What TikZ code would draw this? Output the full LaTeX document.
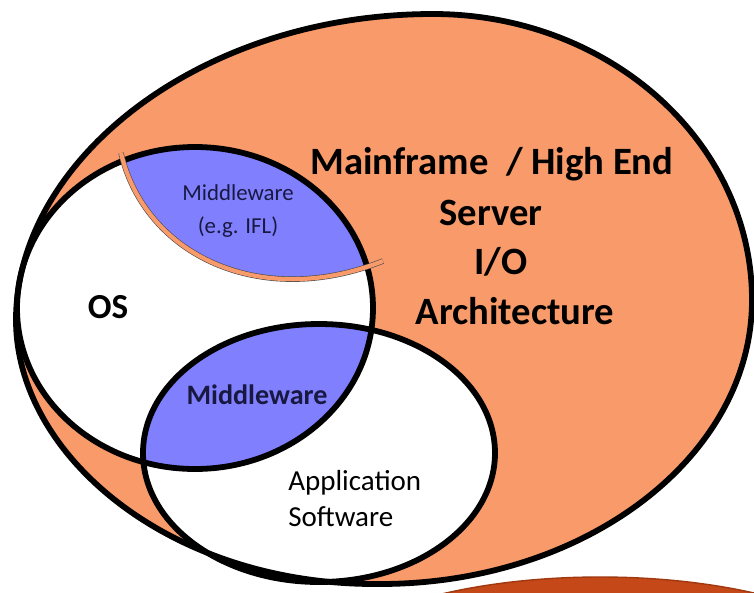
\documentclass[tikz,border=0pt]{standalone}
\usepackage{fontspec}
\setmainfont{Carlito}
\definecolor{salmon}{RGB}{248,154,106}
\definecolor{lensblue}{RGB}{128,128,255}
\definecolor{rust}{RGB}{196,72,24}
\definecolor{rustline}{RGB}{160,56,16}
\definecolor{navytext}{RGB}{24,24,64}
% outline of the big mainframe set
\newcommand{\mainoutline}{(433,14) .. controls (609,14) and (752,142) .. (752,300)
    .. controls (752,457) and (585,584) .. (380,584)
    .. controls (170,586) and (16,455) .. (16,320)
    .. controls (16,160) and (200,14) .. cycle}

\begin{document}
\begin{tikzpicture}[x=0.2mm,y=-0.2mm,
        outline/.style={line width=3.3pt},
        txt/.style={inner sep=0pt,align=center}]
        \useasboundingbox (0,0) rectangle (754,592);
        % centres of the sets
        \coordinate (OS) at (195,308);
        \coordinate (App) at (319,453);
        \coordinate (Next) at (600,690);
        % shape peeking in at the bottom
        \fill[rust] (Next) ellipse [x radius=300,y radius=113];
        \draw[rustline,line width=0.8pt] (Next) ellipse [x radius=300,y radius=113];
        % fills
        \fill[salmon] \mainoutline;
        \fill[white] (OS) ellipse [x radius=178,y radius=161];
        \fill[white] (App) ellipse [x radius=176,y radius=129];
        \begin{scope}
            \clip (OS) ellipse [x radius=178,y radius=161];
            \fill[lensblue] (App) ellipse [x radius=176,y radius=129];
            \fill[lensblue] (100,100) -- (120,150) .. controls (145,255) and (260,310) .. (384,260) -- (400,100) -- cycle;
        \end{scope}
        % outlines
        \draw[outline] \mainoutline;
        \draw[outline] (OS) ellipse [x radius=178,y radius=161];
        \draw[outline] (App) ellipse [x radius=176,y radius=129];
        \draw[black!70,line width=0.35pt,double=salmon,double distance=2.4pt]
            (121,153) .. controls (145,255) and (260,310) .. (383,261);
        % labels
        \node[txt,font=\bfseries\fontsize{22}{26}\selectfont] (mf) at (492,164) {Mainframe\ \ / High End};
        \node[txt,font=\bfseries\fontsize{22}{26}\selectfont] (srv) at (491,213) {Server};
        \node[txt,font=\bfseries\fontsize{22}{26}\selectfont] (io) at (501,262) {I/O};
        \node[txt,font=\bfseries\fontsize{22}{26}\selectfont] (arch) at (515,311) {Architecture};
        \node[txt,font=\bfseries\fontsize{20}{24}\selectfont] (os) at (108,307) {OS};
        \node[txt,navytext,font=\fontsize{13}{18.8}\selectfont] (ifl) at (238,211) {Middleware\\(e.g. IFL)};
        \node[txt,navytext,font=\bfseries\fontsize{16}{20}\selectfont] (mw) at (257,395) {Middleware};
        \node[txt,align=left,anchor=west,font=\fontsize{16.5}{20.5}\selectfont] (appsw) at (288,499) {Application\\Software};
    \end{tikzpicture}
\end{document}
